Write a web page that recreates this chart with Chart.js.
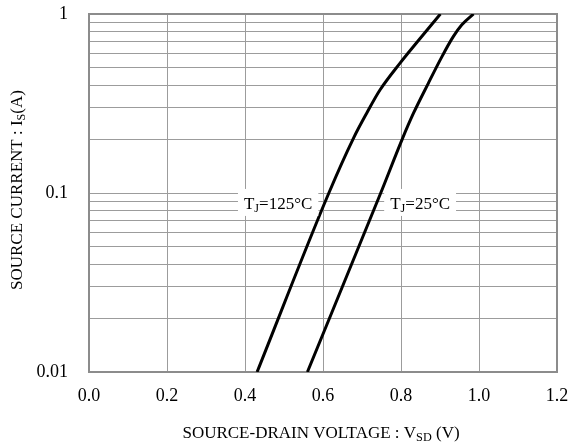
<!DOCTYPE html>
<html><head><meta charset="utf-8">
<script src="https://cdn.jsdelivr.net/npm/chart.js@4/dist/chart.umd.min.js"></script>
<style>html,body{margin:0;padding:0;background:#fff}#wrap{width:568px;height:447px}</style>
</head><body><div id="wrap"><canvas id="c" width="568" height="447"></canvas></div>
<script>
const vsd125 = [0.431, 0.615, 0.678, 0.712, 0.746, 0.797, 0.842, 0.901];
const is125  = [0.01, 0.1, 0.202, 0.279, 0.376, 0.53, 0.70, 1.0];
const vsd25  = [0.56, 0.748, 0.804, 0.832, 0.870, 0.905, 0.934, 0.956, 0.986];
const is25   = [0.01, 0.1, 0.202, 0.279, 0.41, 0.578, 0.747, 0.87, 1.0];
const xTicks = [0.0, 0.2, 0.4, 0.6, 0.8, 1.0, 1.2];
const yGrid  = [0.01,0.02,0.03,0.04,0.05,0.06,0.07,0.08,0.09,0.1,0.2,0.3,0.4,0.5,0.6,0.7,0.8,0.9,1];
const yLabels = {0.01:'0.01', 0.1:'0.1', 1:'1'};
const seriesLabels = [
  {main:'T', sub:'J', rest:'=125°C', v:0.485, i:0.088},
  {main:'T', sub:'J', rest:'=25°C', v:0.849, i:0.088}
];
const xTitle = {main:'SOURCE-DRAIN VOLTAGE : V', sub:'SD', rest:' (V)'};
const yTitle = {main:'SOURCE CURRENT : I', sub:'S', rest:'(A)'};

const FONT = '"Liberation Serif", "Times New Roman", serif';
const GRID = '#9c9c9c';

function toPts(xs, ys){ return xs.map((x,k)=>({x:x, y:ys[k]})); }

function drawSubText(ctx, t, x, y, size, align){
  ctx.font = size + 'px ' + FONT;
  const w1 = ctx.measureText(t.main).width;
  ctx.font = (size*0.72) + 'px ' + FONT;
  const w2 = ctx.measureText(t.sub).width;
  ctx.font = size + 'px ' + FONT;
  const w3 = ctx.measureText(t.rest).width;
  const total = w1+w2+w3;
  let sx = align==='center' ? x - total/2 : x;
  ctx.textAlign='left'; ctx.textBaseline='alphabetic'; ctx.fillStyle='#000';
  ctx.fillText(t.main, sx, y);
  ctx.font = (size*0.72) + 'px ' + FONT;
  ctx.fillText(t.sub, sx+w1, y+size*0.2);
  ctx.font = size + 'px ' + FONT;
  ctx.fillText(t.rest, sx+w1+w2, y);
  return total;
}

const deco = {
  id:'deco',
  beforeDatasetsDraw(chart){
    const {ctx, chartArea:a} = chart;
    ctx.save();
    ctx.strokeStyle = '#8c8c8c'; ctx.lineWidth = 2;
    ctx.strokeRect(a.left, a.top, a.right-a.left, a.bottom-a.top);
    ctx.restore();
  },
  afterDatasetsDraw(chart){
    const {ctx, chartArea:a, scales} = chart;
    ctx.save();
    const size = 17;
    seriesLabels.forEach(l=>{
      const cx = scales.x.getPixelForValue(l.v);
      const cy = scales.y.getPixelForValue(l.i);
      ctx.font = size+'px '+FONT;
      const w = ctx.measureText(l.main).width + ctx.measureText(l.rest).width;
      ctx.font = (size*0.72)+'px '+FONT;
      const tw = w + ctx.measureText(l.sub).width;
      ctx.fillStyle='#fff';
      ctx.fillRect(cx - tw/2 - 6, cy - 14, tw + 12, 27);
      drawSubText(ctx, l, cx, cy + 6, size, 'center');
    });
    drawSubText(ctx, xTitle, (a.left+a.right)/2 - 2, 438, 17, 'center');
    ctx.translate(22, (a.top+a.bottom)/2 - 3);
    ctx.rotate(-Math.PI/2);
    drawSubText(ctx, yTitle, 0, 0, 17, 'center');
    ctx.restore();
  }
};

new Chart(document.getElementById('c'), {
  type:'scatter',
  data:{datasets:[
    {label:'125', data:toPts(vsd125, is125), showLine:true, borderColor:'#000', borderWidth:3, pointRadius:0, cubicInterpolationMode:'monotone'},
    {label:'25', data:toPts(vsd25, is25), showLine:true, borderColor:'#000', borderWidth:3, pointRadius:0, cubicInterpolationMode:'monotone'}
  ]},
  options:{
    responsive:false, animation:false, devicePixelRatio:1,
    layout:{padding:{top:14, right:11, left:0, bottom:0}},
    plugins:{legend:{display:false}, tooltip:{enabled:false}},
    scales:{
      x:{type:'linear', min:0, max:1.2,
        afterBuildTicks(s){ s.ticks = xTicks.map(v=>({value:v})); },
        afterFit(s){ s.height = 75; s.paddingLeft = 0; s.paddingRight = 0; },
        ticks:{color:'#000', font:{family:FONT, size:18}, padding:13, maxRotation:0, callback:v=>Number(v).toFixed(1)},
        grid:{color:GRID, lineWidth:1, drawTicks:false},
        border:{display:false}
      },
      y:{type:'logarithmic', min:0.01, max:1,
        afterBuildTicks(s){ s.ticks = yGrid.map(v=>({value:v})); },
        afterFit(s){ s.width = 89; s.paddingTop = 0; s.paddingBottom = 0; },
        ticks:{color:'#000', font:{family:FONT, size:18}, padding:21, autoSkip:false,
          callback:v=>{ const k = Object.keys(yLabels).find(q=>Math.abs(Number(q)-v)<1e-9); return k!==undefined ? yLabels[k] : ''; }},
        grid:{color:GRID, lineWidth:1, drawTicks:false},
        border:{display:false}
      }
    }
  },
  plugins:[deco]
});
</script></body></html>
